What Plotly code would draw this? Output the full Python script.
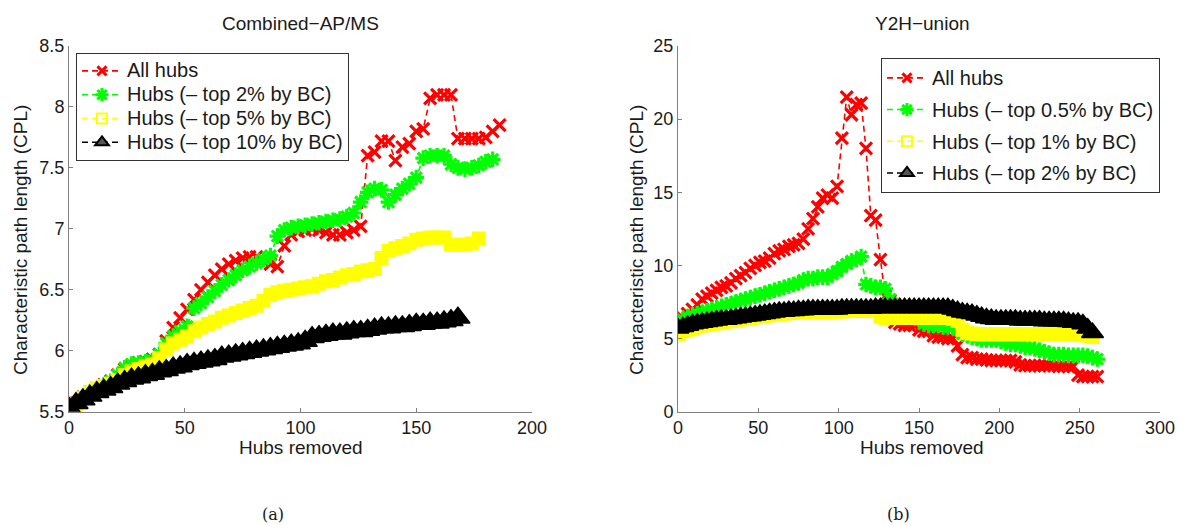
import plotly.graph_objects as go

STEP = 3  # hubs removed between plotted samples

# ---------------- (a) Combined-AP/MS ----------------
ap_all = [5.52, 5.57, 5.62, 5.66, 5.69, 5.72, 5.75, 5.80, 5.85, 5.88,
          5.90, 5.91, 5.93, 5.97, 6.08, 6.19, 6.27, 6.34, 6.42, 6.50,
          6.56, 6.62, 6.67, 6.71, 6.74, 6.76, 6.77, 6.77, 6.74, 6.71,
          6.69, 6.86, 6.95, 6.98, 6.99, 7.00, 6.99, 6.97, 6.95, 6.95,
          6.97, 6.99, 7.02, 7.60, 7.63, 7.72, 7.72, 7.56, 7.67, 7.70,
          7.80, 7.82, 8.07, 8.10, 8.10, 8.10, 7.74, 7.74, 7.74, 7.74,
          7.75, 7.80, 7.85]
ap_top2 = [5.52, 5.57, 5.62, 5.66, 5.69, 5.72, 5.75, 5.80, 5.86, 5.89,
           5.90, 5.91, 5.92, 5.97, 6.06, 6.12, 6.16, 6.20, 6.35, 6.39,
           6.44, 6.49, 6.54, 6.58, 6.62, 6.66, 6.69, 6.72, 6.75, 6.78,
           6.94, 6.99, 7.01, 7.02, 7.03, 7.04, 7.05, 7.06, 7.07, 7.08,
           7.10, 7.13, 7.22, 7.30, 7.33, 7.32, 7.22, 7.28, 7.33, 7.37,
           7.42, 7.58, 7.60, 7.60, 7.60, 7.53, 7.50, 7.49, 7.50, 7.52,
           7.55, 7.57]
ap_top5 = [5.52, 5.56, 5.61, 5.66, 5.69, 5.71, 5.73, 5.76, 5.80, 5.83,
           5.85, 5.87, 5.89, 5.94, 6.01, 6.06, 6.09, 6.12, 6.16, 6.19,
           6.22, 6.24, 6.27, 6.29, 6.31, 6.33, 6.35, 6.37, 6.41, 6.46,
           6.48, 6.49, 6.50, 6.51, 6.52, 6.53, 6.55, 6.57, 6.58, 6.60,
           6.62, 6.63, 6.65, 6.66, 6.67, 6.76, 6.82, 6.84, 6.86, 6.88,
           6.91, 6.92, 6.93, 6.93, 6.93, 6.87, 6.87, 6.87, 6.88, 6.92]
ap_top10 = [5.53, 5.57, 5.60, 5.63, 5.66, 5.68, 5.70, 5.73, 5.75, 5.77,
            5.78, 5.80, 5.81, 5.83, 5.84, 5.86, 5.87, 5.89, 5.90, 5.91,
            5.92, 5.93, 5.95, 5.96, 5.97, 5.98, 5.99, 6.00, 6.01, 6.02,
            6.03, 6.04, 6.05, 6.06, 6.08, 6.11, 6.12, 6.13, 6.14, 6.14,
            6.15, 6.16, 6.16, 6.17, 6.18, 6.19, 6.19, 6.20, 6.20, 6.21,
            6.22, 6.22, 6.23, 6.23, 6.24, 6.25, 6.27]

# ---------------- (b) Y2H-union ----------------
y2h_all = [6.0, 6.4, 6.7, 7.0, 7.3, 7.7, 7.9, 8.1, 8.3, 8.5,
           8.6, 8.8, 9.1, 9.3, 9.5, 9.8, 10.0, 10.2, 10.3, 10.5,
           10.8, 11.0, 11.1, 11.3, 11.4, 11.5, 11.8, 12.5, 13.2, 14.0,
           14.6, 14.8, 14.6, 15.4, 18.7, 21.5, 20.3, 21.0, 21.1, 18.0,
           13.4, 13.1, 10.4, 7.9, 7.6, 6.1, 6.0, 5.9, 5.9, 5.9,
           5.6, 5.5, 5.5, 5.2, 5.1, 5.1, 5.0, 5.0, 4.5, 3.9,
           3.7, 3.7, 3.6, 3.6, 3.55, 3.5, 3.5, 3.5, 3.5, 3.5,
           3.4, 3.2, 3.15, 3.15, 3.15, 3.15, 3.15, 3.15, 3.15, 3.1,
           3.1, 3.1, 3.1, 2.5, 2.4, 2.4, 2.4, 2.4]
y2h_top05 = [6.0, 6.3, 6.5, 6.6, 6.7, 6.8, 6.9, 7.0, 7.1, 7.2,
             7.3, 7.4, 7.5, 7.6, 7.7, 7.8, 7.9, 8.0, 8.1, 8.2,
             8.3, 8.4, 8.5, 8.6, 8.7, 8.8, 9.0, 9.1, 9.1, 9.2,
             9.2, 9.2, 9.4, 9.6, 9.9, 10.1, 10.3, 10.4, 10.6, 8.7,
             8.6, 8.5, 8.5, 8.4, 7.7, 7.3, 7.1, 7.0, 6.7, 6.5,
             6.3, 6.0, 5.9, 5.9, 5.9, 5.8, 5.8, 5.8, 5.6, 5.3,
             5.2, 5.1, 5.0, 4.9, 4.9, 4.9, 4.9, 4.8, 4.7, 4.6,
             4.6, 4.5, 4.4, 4.4, 4.3, 4.2, 4.1, 4.0, 3.9, 3.9,
             3.9, 3.85, 3.85, 3.85, 3.85, 3.8, 3.7, 3.6]
y2h_top1 = [5.3, 5.5, 5.6, 5.7, 5.8, 5.9, 5.95, 6.0, 6.05, 6.1,
            6.15, 6.2, 6.25, 6.3, 6.35, 6.4, 6.45, 6.5, 6.55, 6.6,
            6.65, 6.7, 6.7, 6.75, 6.75, 6.8, 6.8, 6.8, 6.8, 6.8,
            6.8, 6.85, 6.85, 6.85, 6.85, 6.9, 6.9, 6.9, 6.9, 6.9,
            6.9, 6.9, 6.5, 6.4, 6.4, 6.4, 6.4, 6.4, 6.4, 6.4,
            6.4, 6.4, 6.4, 6.4, 6.4, 6.4, 6.4, 6.35, 6.2, 5.6,
            5.4, 5.35, 5.3, 5.3, 5.3, 5.3, 5.3, 5.3, 5.3, 5.3,
            5.3, 5.3, 5.3, 5.3, 5.3, 5.3, 5.3, 5.3, 5.3, 5.3,
            5.3, 5.3, 5.25, 5.25, 5.25, 5.2, 5.1]
y2h_top2 = [5.7, 5.8, 5.9, 6.0, 6.05, 6.1, 6.15, 6.2, 6.25, 6.3,
            6.3, 6.35, 6.4, 6.45, 6.5, 6.55, 6.6, 6.65, 6.7, 6.75,
            6.8, 6.85, 6.85, 6.9, 6.9, 6.95, 6.95, 7.0, 7.0, 7.0,
            7.0, 7.0, 7.0, 7.0, 7.05, 7.05, 7.05, 7.05, 7.05, 7.05,
            7.05, 7.1, 7.1, 7.1, 7.1, 7.1, 7.1, 7.1, 7.1, 7.1,
            7.1, 7.1, 7.1, 7.1, 7.1, 7.1, 7.1, 7.0, 6.9, 6.8,
            6.75, 6.7, 6.6, 6.5, 6.4, 6.35, 6.3, 6.3, 6.3, 6.3,
            6.3, 6.25, 6.25, 6.25, 6.25, 6.25, 6.2, 6.2, 6.2, 6.2,
            6.2, 6.15, 6.1, 6.1, 6.0, 5.7, 5.4]

left_names = ["All hubs", "Hubs (– top 2% by BC)", "Hubs (– top 5% by BC)",
              "Hubs (– top 10% by BC)"]
right_names = ["All hubs", "Hubs (– top 0.5% by BC)", "Hubs (– top 1% by BC)",
               "Hubs (– top 2% by BC)"]
titles = ["Combined−AP/MS", "Y2H−union"]
x_title = "Hubs removed"
y_title = "Characteristic path length (CPL)"
left_xticks = [0, 50, 100, 150, 200]
left_yticks = [5.5, 6, 6.5, 7, 7.5, 8, 8.5]
right_xticks = [0, 50, 100, 150, 200, 250, 300]
right_yticks = [0, 5, 10, 15, 20, 25]

FONT = "Liberation Sans, Arial, sans-serif"
TXT = "#1a1a1a"
W, H = 1180, 525


def hubs(vals):
    return list(range(0, STEP * len(vals), STEP))


# plot-marker style and legend-marker style per series
styles = [
    dict(color="#ff0000", plot=dict(symbol="x-thin-open", size=12, lw=3.2),
         leg=dict(symbol="x-thin-open", size=9, lw=3)),
    dict(color="#00ff00", plot=dict(symbol="asterisk-open", size=13, lw=3.2),
         leg=dict(symbol="asterisk-open", size=11, lw=3)),
    dict(color="#ffff00", plot=dict(symbol="square", size=12, lw=2),
         leg=dict(symbol="square-open", size=10, lw=2)),
    dict(color="#000000", plot=dict(symbol="triangle-up", size=18, lw=1.5),
         leg=dict(symbol="triangle-up", size=12, lw=2)),
]
black_size = {"x": 21, "x2": 19}

fig = go.Figure()
DASH = "6px,4px"


def add_series(vals, name, st, xa, ya):
    c = st["color"]
    p = st["plot"]
    size = black_size[xa] if c == "#000000" else p["size"]
    fig.add_trace(go.Scatter(
        x=hubs(vals), y=vals, name=name, mode="lines+markers",
        line=dict(color=c, width=1.6, dash=DASH),
        marker=dict(symbol=p["symbol"], size=size, color=c,
                    line=dict(color=c, width=p["lw"])),
        xaxis=xa, yaxis=ya, showlegend=False))


def add_legend_entry(name, st, xa, ya, legend, group):
    c = st["color"]
    lg = st["leg"]
    fill = "#555555" if c == "#000000" else c
    fig.add_trace(go.Scatter(
        x=[None], y=[None], name='<span style="font-size:20px">%s</span>' % name,
        mode="lines+markers",
        line=dict(color=c, width=1.6, dash=DASH),
        marker=dict(symbol=lg["symbol"], size=lg["size"], color=fill,
                    line=dict(color=c, width=lg["lw"])),
        xaxis=xa, yaxis=ya, legend=legend, legendgroup=group, showlegend=True))


left_data = [ap_all, ap_top2, ap_top5, ap_top10]
right_data = [y2h_all, y2h_top05, y2h_top1, y2h_top2]
for vals, nm, st in zip(left_data, left_names, styles):
    add_series(vals, nm, st, "x", "y")
for vals, nm, st in zip(right_data, right_names, styles):
    add_series(vals, nm, st, "x2", "y2")
for i, (nm, st) in enumerate(zip(left_names, styles)):
    add_legend_entry(nm, st, "x", "y", "legend", "L%d" % i)
for i, (nm, st) in enumerate(zip(right_names, styles)):
    add_legend_entry(nm, st, "x2", "y2", "legend2", "R%d" % i)

ydom = [1 - 411.7 / H, 1 - 46 / H]
axis_common = dict(showgrid=False, zeroline=False, showline=True, linecolor="#808080",
                   linewidth=1, ticks="inside", ticklen=4, tickcolor="#808080",
                   tickfont=dict(family=FONT, size=18, color=TXT), mirror=False,
                   automargin=False)

fig.update_layout(
    width=W, height=H, margin=dict(l=0, r=0, t=0, b=0, autoexpand=False),
    paper_bgcolor="white", plot_bgcolor="white",
    font=dict(family=FONT, size=18, color=TXT),
    xaxis=dict(domain=[69 / W, 532 / W], range=[0, 200], tickvals=left_xticks,
               anchor="y", **axis_common),
    yaxis=dict(domain=ydom, range=[5.5, 8.5], tickvals=left_yticks,
               ticktext=[("%g" % v) for v in left_yticks], anchor="x", **axis_common),
    xaxis2=dict(domain=[678 / W, 1160 / W], range=[0, 300], tickvals=right_xticks,
                anchor="y2", **axis_common),
    yaxis2=dict(domain=ydom, range=[0, 25], tickvals=right_yticks, anchor="x2",
                **axis_common),
    legend=dict(x=76 / W, y=1 - 53 / H, xanchor="left", yanchor="top",
                bgcolor="white", bordercolor="#333333", borderwidth=1,
                font=dict(family=FONT, size=16, color=TXT),
                itemwidth=40, tracegroupgap=0, traceorder="grouped"),
    legend2=dict(x=881 / W, y=1 - 58 / H, xanchor="left", yanchor="top",
                 bgcolor="white", bordercolor="#333333", borderwidth=1,
                 font=dict(family=FONT, size=19, color=TXT),
                 itemwidth=40, tracegroupgap=4, traceorder="grouped"),
    showlegend=True,
)

ann = []
for t, cx in zip(titles, [300, 922]):
    ann.append(dict(text=t, x=cx / W, y=1 - 23 / H, xref="paper", yref="paper",
                    showarrow=False, font=dict(family=FONT, size=19, color=TXT),
                    xanchor="center", yanchor="middle"))
for cx in [301, 922]:
    ann.append(dict(text=x_title, x=cx / W, y=1 - 447 / H, xref="paper", yref="paper",
                    showarrow=False, font=dict(family=FONT, size=19, color=TXT),
                    xanchor="center", yanchor="middle"))
for cx in [21, 637]:
    ann.append(dict(text=y_title, x=cx / W, y=1 - 240 / H, xref="paper", yref="paper",
                    showarrow=False, textangle=-90,
                    font=dict(family=FONT, size=19, color=TXT),
                    xanchor="center", yanchor="middle"))
for t, cx in zip(["(a)", "(b)"], [273, 898]):
    ann.append(dict(text=t, x=cx / W, y=1 - 514 / H, xref="paper", yref="paper",
                    showarrow=False, font=dict(family="DejaVu Serif, serif", size=16,
                                               color=TXT),
                    xanchor="center", yanchor="middle"))
fig.update_layout(annotations=ann)

fig.write_html("out.html", config={"displayModeBar": False})

# remove the browser's default page margin so the figure sits at (0, 0)
with open("out.html", "r", encoding="utf-8") as fh:
    page = fh.read()
page = page.replace("<head>", "<head><style>html,body{margin:0;padding:0;overflow:hidden;}</style>", 1)
with open("out.html", "w", encoding="utf-8") as fh:
    fh.write(page)
